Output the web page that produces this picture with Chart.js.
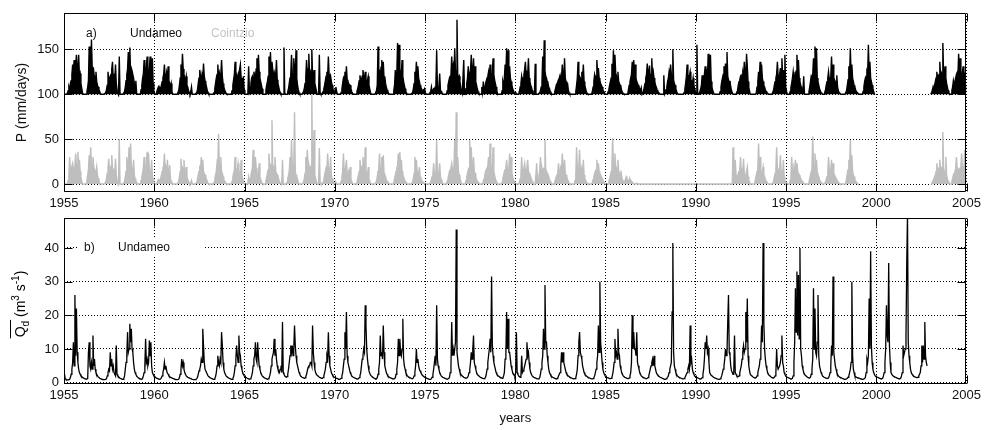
<!DOCTYPE html>
<html>
<head>
<meta charset="utf-8">
<script src="https://cdn.jsdelivr.net/npm/chart.js@4.4.1/dist/chart.umd.min.js"></script>
<style>
  body { margin: 0; background: #fff; }
  #wrap { position: relative; width: 985px; height: 430px; }
  canvas { position: absolute; left: 0; }
  #chartP { top: 0; }
  #chartQ { top: 200px; }
</style>
</head>
<body>
<div id="wrap">
  <canvas id="chartP" width="985" height="210"></canvas>
  <canvas id="chartQ" width="985" height="230"></canvas>
</div>
<script>
// valores: 24 valores por año (quincenas), null = sin registro
const firstYear = 1955;
const xTicks = [1955, 1960, 1965, 1970, 1975, 1980, 1985, 1990, 1995, 2000, 2005];
const yTicksP = [0, 50, 100, 150];
const yTicksQ = [0, 10, 20, 30, 40];
const undameoOffset = 100; // la serie de Undameo se dibuja desplazada +100

// P Undameo (mm/dia)
const undameoP = [
  [0,0,0,0,1,4,8,5,12,15,22,33,26,38,24,30,44,28,25,44,20,23,12,7],
  [2,0,0,0,0,0,3,8,15,53,24,28,61,30,22,26,18,20,25,14,10,8,5,3],
  [0,0,0,0,0,0,0,2,5,10,25,14,18,20,22,28,36,17,20,15,33,12,5,2],
  [0,42,0,0,0,0,0,0,3,8,15,22,28,47,30,52,25,28,20,22,18,12,10,15],
  [2,0,0,0,0,0,5,10,18,22,38,20,26,30,42,25,22,28,42,20,18,40,12,4],
  [0,0,0,0,6,8,4,7,5,10,14,18,22,33,20,16,24,18,31,15,12,8,12,3],
  [0,0,0,0,0,0,0,0,4,10,18,33,22,45,28,22,18,15,20,10,8,4,2,0],
  [3,8,0,0,0,0,0,0,2,5,12,18,27,20,15,22,18,34,20,15,12,8,4,2],
  [0,0,0,0,0,0,0,2,6,12,18,22,33,20,24,18,22,38,20,12,8,5,3,1],
  [0,0,0,0,0,0,0,4,10,16,22,36,25,20,18,22,15,28,33,18,14,10,20,5],
  [0,0,0,0,2,31,4,8,12,18,20,15,25,20,18,28,40,22,44,25,18,14,10,6],
  [0,0,0,0,5,10,14,20,42,25,47,22,36,28,20,24,18,22,38,16,12,8,4,2],
  [0,0,0,0,52,2,0,0,0,3,6,12,18,22,44,24,20,40,26,22,49,18,10,5],
  [2,0,0,0,0,0,3,6,12,20,38,24,28,45,22,26,24,50,20,18,27,12,8,4],
  [0,0,0,44,2,0,0,0,3,6,10,15,20,25,18,42,22,16,20,14,10,6,3,1],
  [5,8,3,0,0,0,0,0,2,6,12,18,20,25,18,31,16,14,12,10,10,6,3,1],
  [0,0,0,0,0,3,6,10,15,21,14,16,20,27,18,16,25,14,12,16,20,10,6,2],
  [0,0,0,0,0,0,0,4,10,53,20,24,18,30,38,22,36,18,20,12,8,5,3,1],
  [0,0,0,0,0,0,4,10,27,18,22,57,26,55,28,22,24,38,20,14,10,6,3,1],
  [0,0,0,0,0,0,0,2,6,12,25,18,36,22,31,18,14,10,8,4,2,5,4,6],
  [2,0,0,0,0,0,0,3,8,2,4,6,5,8,12,49,6,8,10,23,5,3,2,0],
  [0,0,0,0,0,4,10,14,18,20,22,42,24,31,22,51,26,20,83,22,18,20,14,8],
  [2,0,0,38,0,0,6,12,18,31,20,22,26,44,24,22,40,18,31,14,10,6,3,1],
  [0,0,0,8,2,14,3,6,12,15,18,20,25,18,33,22,20,24,40,22,16,12,8,4],
  [0,0,0,0,0,0,4,14,10,18,33,22,51,26,49,24,31,18,14,10,6,4,2,1],
  [2,0,0,0,0,3,8,12,20,14,18,22,28,36,20,24,22,40,18,14,10,8,4,2],
  [0,0,34,0,0,0,0,0,2,4,8,14,42,22,60,26,20,18,14,12,8,6,3,1],
  [0,0,0,0,3,6,10,12,14,16,18,21,15,18,33,20,16,40,18,14,12,12,5,2],
  [0,0,0,0,0,0,0,0,3,10,18,36,22,20,18,16,25,18,33,14,10,6,3,1],
  [0,0,0,0,0,0,3,8,14,22,18,20,38,22,29,18,15,12,10,8,5,3,2,0],
  [0,0,0,3,6,10,14,18,34,20,49,22,44,24,20,18,25,14,12,10,8,4,2,1],
  [0,0,0,0,0,0,5,10,14,18,22,36,20,38,22,33,18,14,12,10,8,6,4,7],
  [0,0,3,8,12,18,22,34,20,24,32,18,22,40,20,25,18,14,10,8,5,3,2,1],
  [0,0,0,0,0,21,0,2,5,8,14,18,25,20,33,22,18,50,16,12,10,6,3,1],
  [0,0,0,0,0,0,0,0,2,6,12,20,33,22,18,20,25,16,14,12,18,10,6,3],
  [0,55,2,0,0,0,6,10,21,14,18,22,31,20,24,18,45,22,18,44,14,8,4,2],
  [0,0,0,0,0,0,0,0,3,8,14,18,22,31,20,34,22,47,20,16,12,15,8,4],
  [2,0,0,0,0,0,0,4,10,14,16,20,18,22,24,20,36,22,18,45,31,14,8,3],
  [0,0,0,0,0,0,0,0,2,8,14,25,18,36,20,33,18,14,10,8,5,3,2,1],
  [0,0,0,0,0,0,0,5,10,14,18,22,36,20,18,22,29,18,40,20,27,16,44,8],
  [4,0,0,0,0,3,8,12,18,25,16,20,22,26,44,22,38,18,14,10,8,6,4,20],
  [0,0,0,0,0,0,3,8,14,20,18,22,40,24,53,22,51,18,14,10,6,4,2,1],
  [0,0,0,2,5,10,14,18,25,16,18,20,42,20,33,18,16,14,12,21,8,4,2,1],
  [0,0,0,0,0,0,0,0,4,10,16,31,20,51,22,33,18,14,10,8,5,3,2,1],
  [0,0,0,0,0,0,3,8,14,18,20,25,22,55,24,36,18,14,10,6,3,0,0,0],
  null,
  null,
  null,
  [0,2,4,8,5,10,14,18,25,18,20,22,36,20,24,22,57,22,20,31,18,12,8,4],
  [2,0,0,0,4,8,15,10,14,18,22,24,20,45,22,40,20,18,24,31,16,20,10,5]
];

// P Cointzio (mm/dia)
const cointzioP = [
  [0,0,0,0,0,4,10,30,14,18,20,23,16,18,20,34,22,18,36,20,27,14,8,3],
  [0,0,0,0,0,0,4,10,16,32,20,41,22,18,30,20,16,14,12,19,10,6,3,1],
  [0,0,0,0,0,0,0,2,6,12,18,28,16,14,20,32,18,16,12,14,28,10,4,1],
  [0,50,0,0,0,0,0,0,3,8,14,30,18,20,41,22,45,20,16,14,27,10,6,3],
  [2,0,0,0,0,0,4,8,12,18,30,16,18,20,36,18,34,16,14,12,27,10,5,2],
  [0,0,0,0,3,5,3,4,6,10,14,18,20,34,16,18,14,27,12,10,21,6,3,1],
  [0,0,0,0,0,0,0,0,3,8,14,28,16,18,14,27,12,10,19,8,5,3,1,0],
  [2,4,0,0,0,0,0,0,2,5,10,14,18,16,30,18,27,14,12,10,8,5,3,1],
  [0,0,0,0,0,0,0,2,5,10,14,23,18,56,20,16,30,14,12,8,5,3,2,1],
  [0,0,0,0,0,0,0,3,8,12,16,30,18,14,16,23,14,12,10,27,10,6,3,1],
  [0,0,0,0,2,8,3,6,10,14,18,38,20,16,30,18,14,12,10,23,8,5,3,1],
  [0,0,0,0,4,8,12,16,34,20,18,22,71,18,16,20,30,14,12,10,8,5,3,1],
  [0,0,27,0,0,0,0,0,2,6,10,14,30,18,49,20,16,18,80,14,10,8,5,2],
  [0,0,0,0,0,0,2,6,12,30,18,38,20,22,18,16,20,99,18,16,60,10,6,3],
  [0,0,0,40,2,0,0,0,2,5,10,14,18,16,34,20,14,12,30,10,6,3,2,1],
  [0,2,0,0,0,0,0,0,3,8,14,34,16,14,18,27,12,10,14,10,19,6,3,1],
  [0,0,0,0,0,2,6,10,14,27,16,18,20,30,16,14,41,14,12,10,19,6,3,1],
  [0,0,0,0,0,0,0,3,8,14,18,34,16,18,30,16,32,12,10,8,5,3,2,1],
  [0,0,0,0,0,0,2,6,10,14,18,20,34,16,36,18,27,14,10,8,5,3,2,1],
  [0,0,0,0,0,0,0,2,6,12,30,16,27,14,12,10,19,8,6,4,3,2,1,0],
  [0,0,0,0,0,0,0,2,5,8,12,23,10,12,14,49,12,10,14,23,8,5,3,1],
  [0,0,0,0,0,3,6,10,14,16,18,23,16,18,20,49,18,80,20,30,14,10,6,3],
  [0,0,0,0,0,0,4,8,12,16,18,49,20,41,18,16,30,14,12,8,5,3,2,1],
  [0,0,0,0,0,3,6,10,14,16,18,20,30,18,45,20,18,16,41,14,10,6,3,1],
  [0,0,0,0,0,0,2,6,10,14,16,18,27,16,14,18,34,16,30,12,8,5,3,1],
  [0,0,0,0,0,2,6,10,30,14,16,18,23,14,16,18,27,14,12,10,8,5,3,1],
  [0,0,0,0,23,4,6,10,14,30,16,18,14,16,18,49,16,14,12,10,8,5,3,1],
  [0,0,0,0,2,5,8,10,12,23,14,16,18,16,34,18,16,27,12,10,8,5,3,1],
  [0,0,0,0,0,0,0,4,10,41,18,16,20,38,16,14,16,12,27,10,6,4,2,1],
  [0,0,0,0,0,0,2,5,8,12,14,16,27,14,23,14,12,10,8,6,4,2,1,0],
  [0,0,0,0,3,6,10,14,20,51,22,18,34,20,18,16,27,14,12,10,15,8,5,3],
  [2,3,5,8,6,4,3,5,6,4,3,2,1,0,0,0,0,1,0,0,0,0,0,0],
  [0,0,0,0,0,0,0,0,0,0,0,0,0,0,0,0,0,0,0,0,0,0,0,0],
  [0,0,0,0,0,0,0,0,0,0,0,0,0,0,0,0,0,0,0,0,0,0,0,0],
  [0,0,0,0,0,0,0,0,0,0,0,0,0,0,0,0,0,0,0,0,0,0,0,0],
  [0,0,0,0,0,0,0,0,0,0,0,0,0,0,0,0,0,0,0,0,0,0,0,0],
  [0,0,0,0,0,0,0,0,0,0,0,0,0,0,0,0,0,0,0,0,0,0,0,0],
  [0,41,8,12,27,10,6,8,12,14,16,30,14,16,12,28,12,10,8,14,19,8,4,2],
  [0,0,0,0,0,0,2,6,10,14,18,45,16,30,14,12,14,19,10,8,5,3,2,1],
  [0,0,0,0,0,0,0,3,8,12,16,41,18,16,14,16,32,14,12,10,27,8,4,2],
  [2,0,0,0,0,4,8,30,14,16,18,14,27,16,23,14,12,10,8,6,4,3,2,1],
  [0,0,0,0,0,0,2,6,10,14,18,53,20,16,34,16,27,12,10,8,5,3,2,1],
  [0,0,0,0,2,5,8,12,30,16,14,16,27,14,23,12,10,8,6,4,3,2,1,0],
  [0,0,0,0,0,0,0,2,6,12,16,27,18,49,20,32,14,10,8,5,3,2,1,0],
  null,
  null,
  null,
  null,
  [0,0,2,4,6,8,10,14,23,16,14,18,27,16,18,16,58,18,14,12,30,10,6,3],
  [2,0,0,0,3,6,10,12,14,16,30,18,16,14,16,18,20,34,16,18,14,38,10,4]
];

// Caudal medio diario Undameo (m3/s)
const undameoQ = [
  [2.8,1.2,0.9,0.8,0.8,0.8,0.9,1,1.5,2.5,4,6,12,5,26,8,22,9,6,4,3,2.5,2,1.8],
  [1.6,1.4,1.3,1.2,1.1,1,1,1.2,9,12,5,4,6,4,14,5,7,4,3,2.5,2,1.7,1.5,1.3],
  [1.2,1.1,1,1,0.9,0.9,0.9,1,1.2,2,3,4,3.5,9,5,7,4,5,3,2.5,2,11,2.5,2],
  [1.8,1.5,1.3,1.2,1.1,1,1,1.2,2,4,6,8,15,9,10,17.5,12,16,10,9,6,4,3,2.5],
  [2,1.7,1.5,1.3,1.2,1.1,1,1.1,1.3,2,3,5,13,6,7,5,6,12.5,8,12,5,3,2.5,2],
  [1.8,1.6,1.4,1.3,1.2,1.1,1,1,1.1,1.5,2,3,4,6,4,5,3.5,2.8,2.5,2,1.8,1.6,1.5,1.4],
  [1.3,1.2,1.1,1,1,0.9,0.9,0.9,1,1.5,2.5,4,7,5,6,4,3,2.5,2,1.8,1.6,1.5,1.4,1.3],
  [1.2,1.1,1,1,0.9,0.9,0.9,1,1.2,1.6,2.5,3.5,4,5,7,6,16,11,6,4,4,3,2.5,2],
  [1.8,1.6,1.4,1.3,1.2,1.1,1,1,1.2,1.8,3,5,8,6,5,7,6,15,11,6,4,3,2.5,2],
  [1.8,1.6,1.4,1.3,1.2,1.1,1,1,1.2,1.8,3,5,7,11,8,6,14,9,8,5,4,3,2.5,2],
  [1.8,1.6,1.5,1.3,1.2,1.1,1,1.1,1.3,2,3,5,7,8,12,7,6,12,8,5,4,3,2.5,2],
  [1.8,1.6,1.4,1.3,1.2,1.1,1,1.1,1.3,2,3,5,7,8,9,13,8,10,7,5,4,3.5,3,4],
  [5,3,18,3,2.5,2,1.8,1.6,1.8,2.5,4,6,8,11,9,11,8,10,17,11,8,6,5,4],
  [3,2.5,2,1.8,1.6,1.5,1.4,1.3,1.4,1.8,2.5,3.5,4.5,5,5,6,6,5,17,9,6,4,3,2.5],
  [2.2,2,1.8,1.6,1.5,1.4,1.3,1.3,1.5,2,3,4,6,8,7,15,8,5,4,3,2.5,2,1.8,1.6],
  [1.5,1.4,1.3,1.2,1.1,1,1,1.1,1.3,2,3,5,7,15,10,21,8,6,5,4,3,2.5,2,1.8],
  [1.6,1.5,1.4,1.3,1.2,1.1,1.1,1.2,1.5,2,3,5,7,8,10,9,23,17,10,7,5,3.5,2.8,2.3],
  [2,1.8,1.6,1.4,1.3,1.2,1.1,1.2,1.5,2.5,4,6,14,8,9,7,17,9,5,4,3,2.5,2,1.8],
  [1.6,1.5,1.4,1.3,1.2,1.1,1.1,1.2,1.5,2.5,4,6,13,8,13,9,8,10,19,7,5,4,3,2.5],
  [2,1.8,1.6,1.5,1.4,1.3,1.2,1.2,1.4,2,3,5,10,6,7,5,4,3.5,3,2.5,2.2,2,1.8,1.6],
  [1.5,1.4,1.3,1.2,1.1,1,1,1,1.2,1.6,2.5,4,6,8,5,23,7,5,4,3,2.5,2,1.8,1.6],
  [1.5,1.4,1.3,1.2,1.1,1,1,1.2,1.6,3,5,18,8,10,8,10,12,45.5,9,7,5,4,3,2.5],
  [2.2,2,1.8,1.6,1.5,1.4,1.3,1.3,1.5,2,3,4,6,9,7,10,14,6,5,4,3,2.5,2.2,2],
  [1.8,1.6,1.5,1.4,1.3,1.2,1.2,1.3,1.6,2.5,4,6,8,10,13,9,31.5,11,8,6,5,4,3,2.5],
  [2.2,2,1.8,1.6,1.5,1.4,1.3,1.4,2,3,7,8,21,10,19,9,9,7,5,4,3,2.5,2.2,2],
  [3,15,3,2.5,2,1.8,1.6,1.8,8,3,3.5,4,5,6,7,12,8,9,6,4,3,2.5,2,1.8],
  [1.6,1.5,1.4,1.3,1.2,1.1,1.1,1.2,1.5,2.5,4,6,8,16,10,29,12,12,8,6,4,3,2.5,2],
  [1.8,1.6,1.5,1.4,1.3,1.2,1.1,1.2,1.4,2,2.5,3,5,9,6,9,6,5,4,3,2.5,2.2,2,1.8],
  [1.6,1.5,1.4,1.3,1.2,1.1,1.1,1.2,1.5,2.5,4,8,12,15,9,8,7,5,4,3,2.5,2.2,2,1.8],
  [1.6,1.5,1.4,1.3,1.2,1.1,1.1,1.2,1.5,2,3,4,6,8,17,9,30,12,9,6,4,3,2.5,2],
  [1.8,1.6,1.5,1.4,1.3,1.2,1.2,1.3,1.6,2.5,4,6,13,8,9,7,16,9,8,5,4,3,2.5,2],
  [1.8,1.6,1.5,1.4,1.3,1.2,1.2,1.4,2,3,6,20,10,15,10,10,8,15,6,5,4,3,2.5,2],
  [1.8,1.6,1.5,1.4,1.3,1.2,1.2,1.3,1.5,2,3,4,5,6,7,5,8,5,4,3,2.5,2.2,2,1.8],
  [1.6,1.5,1.4,1.3,1.2,1.1,1,1,1.1,1.3,1.6,2,3,4,5,6,21,41.5,9,5,4,3,2.5,2],
  [1.8,1.6,1.5,1.4,1.3,1.2,1.1,1.1,1.2,1.5,2,2.5,3,4,5,4,17,6,7,4,3,2.5,2,1.8],
  [1.6,1.5,1.4,1.3,1.2,1.1,1.1,1.2,1.5,2.5,4,7,12,10,14,9,10,6,3,2.5,2.2,2,1.8,1.6],
  [1.5,1.4,1.3,1.2,1.1,1.1,1,1,1.1,1.5,2,3,4,5,7,10,8,9,18,26,9,8,5,3.5],
  [3,2.5,3,14,3,2.5,2,1.8,1.8,2,3,4,5,7,9,11,9,10,21,12,25,8,5,3.5],
  [2.5,2.2,2,1.8,1.6,1.5,1.4,1.4,1.6,2,3,4,5,7,9,17,12,41.5,18,10,7,5,4,3],
  [2.5,2.2,2,1.8,1.6,1.5,1.4,1.4,1.6,2,3,10,5,4,4,5,6,8,14,6,5,3,2.5,2],
  [1.8,1.6,1.5,1.4,1.3,1.2,1.1,1.1,1.3,2,6,12,28,15,33,14,32,13,40,10,8,5,4,3],
  [2.5,2.2,2,1.8,1.6,1.5,1.4,1.4,1.6,2.5,4,7,28,10,22,9,8,12,26,8,5,4,3,2.5],
  [2,1.8,1.6,1.5,1.4,1.3,1.2,1.2,1.4,2,3,5,11,8,31.5,9,7,5,4,3,2.5,2,1.8,1.6],
  [1.5,1.4,1.3,1.2,1.1,1,1,1,1.1,1.3,1.6,2,3,4,6,30,8,4,3,2,1.8,1.6,1.5,1.4],
  [1.4,1.3,1.2,1.1,1.1,1,1,1,1.2,1.6,3,7,6,8,25,10,39,11,6,4,3,2.5,2,1.8],
  [1.7,1.6,1.5,1.4,1.3,1.2,1.1,1.1,1.3,2,3,6,10,23,14,12,35.5,11,6,3,2.5,2.2,2,1.8],
  [1.7,1.6,1.5,1.4,1.3,1.2,1.1,1.1,1.3,2,3,11,8,9,10,14,35.5,50,12,8,6,4,3,2.5],
  [2.2,2,1.8,1.7,1.6,1.5,1.5,1.6,2,2.5,3,5,11,6,11,7,18,8,6,5,null,null,null,null],
  null,
  null
];

// convierte filas anuales a puntos {x: año decimal, y}
function toPoints(rows, offset) {
  const pts = [];
  rows.forEach((row, k) => {
    const year = firstYear + k;
    if (row === null) {
      pts.push({ x: year + 0.5, y: null }); // corta la linea
      return;
    }
    row.forEach((v, i) => {
      pts.push({ x: year + (i + 0.5) / row.length, y: v === null ? null : v + offset });
    });
  });
  return pts;
}

const fontFam = '"Liberation Sans", Arial, sans-serif';
Chart.defaults.font.family = fontFam;
Chart.defaults.color = '#000';

// marco y marcas hacia adentro (estilo matlab) + textos del panel
const matlabAxes = {
  id: 'matlabAxes',
  afterDatasetsDraw(chart, args, opts) {
    const { ctx, chartArea: a, scales } = chart;
    const L = Math.floor(a.left) + 0.5, R = Math.floor(a.right) - 0.5;
    const T = Math.floor(a.top) + 0.5, B = Math.floor(a.bottom) - 0.5;
    ctx.save();
    // textos
    (opts.labels || []).forEach(lb => {
      ctx.font = lb.font;
      if (lb.box) {
        ctx.fillStyle = '#fff';
        ctx.fillRect(lb.box[0], lb.box[1], lb.box[2], lb.box[3]);
      }
      ctx.fillStyle = lb.color;
      ctx.textBaseline = 'alphabetic';
      ctx.textAlign = 'left';
      ctx.fillText(lb.text, lb.x, lb.y);
    });
    ctx.strokeStyle = '#000';
    ctx.lineWidth = 1;
    ctx.beginPath();
    ctx.rect(L, T, R - L, B - T);
    const tl = 8;
    scales.x.ticks.forEach(t => {
      const px = Math.round(scales.x.getPixelForValue(t.value)) + 0.5;
      ctx.moveTo(px, B); ctx.lineTo(px, B - tl);
      ctx.moveTo(px, T); ctx.lineTo(px, T + tl);
    });
    scales.y.ticks.forEach(t => {
      const py = Math.round(scales.y.getPixelForValue(t.value)) + 0.5;
      ctx.moveTo(L, py); ctx.lineTo(L + tl, py);
      ctx.moveTo(R, py); ctx.lineTo(R - tl, py);
    });
    ctx.stroke();
    // etiqueta del eje Q con barra y subindice
    if (opts.qLabel) {
      const q = opts.qLabel;
      ctx.translate(q.x, q.y);
      ctx.rotate(-Math.PI / 2);
      const big = '14px ' + fontFam, small = '10px ' + fontFam;
      const parts = [
        { t: 'Q', f: big, dy: 0 },
        { t: 'd', f: small, dy: 4 },
        { t: ' (m', f: big, dy: 0 },
        { t: '3', f: small, dy: -6 },
        { t: ' s', f: big, dy: 0 },
        { t: '-1', f: small, dy: -6 },
        { t: ')', f: big, dy: 0 }
      ];
      let w = 0;
      parts.forEach(p => { ctx.font = p.f; p.w = ctx.measureText(p.t).width; w += p.w; });
      let cx = -w / 2;
      const base = 5;
      ctx.fillStyle = '#000';
      ctx.textAlign = 'left';
      ctx.textBaseline = 'alphabetic';
      const barStart = cx;
      parts.forEach(p => { ctx.font = p.f; ctx.fillText(p.t, cx, base + p.dy); cx += p.w; });
      const barEnd = barStart + parts[0].w + parts[1].w + 1;
      ctx.beginPath();
      ctx.lineWidth = 1;
      ctx.moveTo(barStart - 1, base - 14.5);
      ctx.lineTo(barEnd, base - 14.5);
      ctx.stroke();
    }
    ctx.restore();
  }
};

function xScale(extra) {
  return Object.assign({
    type: 'linear',
    min: 1955,
    max: 2005,
    afterBuildTicks: s => { s.ticks = xTicks.map(v => ({ value: v })); },
    grid: { color: '#000', lineWidth: 1, drawTicks: false },
    border: { display: false, dash: [1, 2] },
    ticks: {
      font: { size: 13 }, color: '#111', padding: 4, maxRotation: 0, autoSkip: false,
      callback: v => String(v)
    }
  }, extra);
}

function yScale(min, max, ticksArr, extra) {
  return Object.assign({
    min: min,
    max: max,
    afterBuildTicks: s => { s.ticks = ticksArr.map(v => ({ value: v })); },
    afterFit: s => { s.width = 64; },
    grid: { color: '#000', lineWidth: 1, drawTicks: false },
    border: { display: false, dash: [1, 2] },
    ticks: { font: { size: 13 }, color: '#111', padding: 5, callback: v => String(v) }
  }, extra);
}

const commonOpts = {
  responsive: false,
  animation: false,
  events: [],
  plugins: { legend: { display: false }, tooltip: { enabled: false } },
  elements: { point: { radius: 0 }, line: { tension: 0 } }
};

new Chart(document.getElementById('chartP'), {
  type: 'line',
  data: {
    datasets: [
      {
        label: 'Undameo',
        data: toPoints(undameoP, undameoOffset),
        borderColor: '#000',
        backgroundColor: '#000',
        borderWidth: 1.4,
        fill: { value: undameoOffset },
        spanGaps: false
      },
      {
        label: 'Cointzio',
        data: toPoints(cointzioP, 0),
        borderColor: '#bebebe',
        backgroundColor: '#bebebe',
        borderWidth: 1.4,
        fill: { value: 0 },
        spanGaps: false
      }
    ]
  },
  options: Object.assign({}, commonOpts, {
    layout: { padding: { left: 0, right: 18, top: 13, bottom: 0 } },
    scales: {
      x: xScale({ afterFit: s => { s.height = 18; } }),
      y: yScale(-8.9, 190.4, yTicksP, {
        title: { display: true, text: 'P (mm/days)', font: { size: 14 }, color: '#111', padding: { top: 14 } }
      })
    },
    plugins: Object.assign({}, commonOpts.plugins, {
      matlabAxes: {
        labels: [
          { text: 'a)', x: 86, y: 37, color: '#111', font: '12px ' + fontFam },
          { text: 'Undameo', x: 130, y: 37, color: '#111', font: '12px ' + fontFam },
          { text: 'Cointzio', x: 211, y: 37, color: '#c4c4c4', font: '12px ' + fontFam }
        ]
      }
    })
  }),
  plugins: [matlabAxes]
});

new Chart(document.getElementById('chartQ'), {
  type: 'line',
  data: {
    datasets: [
      {
        label: 'Undameo',
        data: toPoints(undameoQ, 0),
        borderColor: '#000',
        borderWidth: 1.3,
        fill: false,
        spanGaps: false
      }
    ]
  },
  options: Object.assign({}, commonOpts, {
    layout: { padding: { left: 0, right: 18, top: 18, bottom: 0 } },
    scales: {
      x: xScale({
        afterFit: s => { s.height = 46; },
        title: { display: true, text: 'years', font: { size: 13 }, color: '#111', padding: { bottom: 4 } }
      }),
      y: yScale(-0.4, 48.9, yTicksQ, {})
    },
    plugins: Object.assign({}, commonOpts.plugins, {
      matlabAxes: {
        labels: [
          { text: 'b)', x: 84, y: 51, color: '#111', font: '12px ' + fontFam, box: [77, 39, 126, 16] },
          { text: 'Undameo', x: 118, y: 51, color: '#111', font: '12px ' + fontFam }
        ],
        qLabel: { x: 20, y: 104 }
      }
    })
  }),
  plugins: [matlabAxes]
});
</script>
</body>
</html>
